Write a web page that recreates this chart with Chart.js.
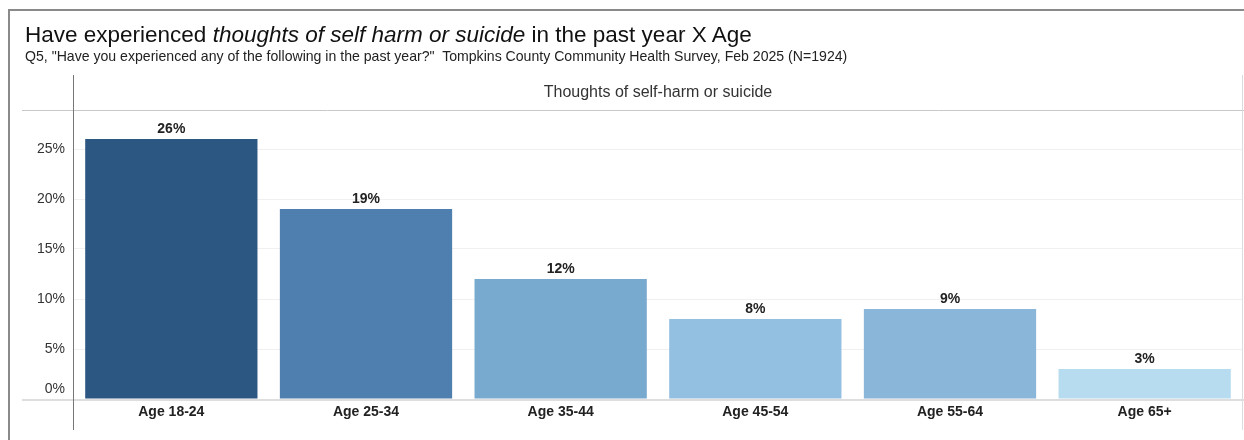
<!DOCTYPE html>
<html>
<head>
<meta charset="utf-8">
<script src="https://cdn.jsdelivr.net/npm/chart.js@4"></script>
<style>
  html, body { margin: 0; padding: 0; background: #fff; }
  body { width: 1244px; height: 440px; position: relative; overflow: hidden; font-family: Arial, "Liberation Sans", sans-serif; }
  #frame { position: absolute; left: 8px; top: 9px; width: 1250px; height: 450px; border-left: 2px solid #8a8a8a; border-top: 2px solid #8a8a8a; }
  #title { position: absolute; left: 25px; top: 24px; font-size: 22.5px; line-height: 1; color: #111; white-space: nowrap; }
  #subtitle { position: absolute; left: 25px; top: 49px; font-size: 14.1px; line-height: 1; color: #222; white-space: nowrap; }
  #header { position: absolute; left: 74px; width: 1168px; top: 84px; text-align: center; font-size: 16px; line-height: 1; color: #333; }
  #wrap { position: absolute; left: 0; top: 0; width: 1244px; height: 440px; }
</style>
</head>
<body>
<div id="frame"></div>
<div id="wrap"><canvas id="chart"></canvas></div>
<div id="title">Have experienced <i>thoughts of self harm or suicide</i> in the past year X Age</div>
<div id="subtitle">Q5, "Have you experienced any of the following in the past year?"&nbsp; Tompkins County Community Health Survey, Feb 2025 (N=1924)</div>
<div id="header">Thoughts of self-harm or suicide</div>
<script>
  const ageGroups = ["Age 18-24", "Age 25-34", "Age 35-44", "Age 45-54", "Age 55-64", "Age 65+"];
  const pctValues = [26, 19, 12, 8, 9, 3];
  const barColors = ["#2c5783", "#4e7fae", "#78a9cf", "#93bfe1", "#8ab6da", "#b7dcef"];
  const yTicks = [0, 5, 10, 15, 20, 25];

  const FONT = "Arial, 'Liberation Sans', sans-serif";

  // panel lines: header rule, baseline and the two vertical dividers
  const panelLines = {
    id: "panelLines",
    beforeDraw(chart) {
      const { ctx, chartArea } = chart;
      const base = Math.round(chart.scales.y.getPixelForValue(0));
      ctx.save();
      ctx.lineWidth = 1;
      ctx.strokeStyle = "#c8c8c8";
      ctx.beginPath();
      ctx.moveTo(22, chartArea.top + 0.5);
      ctx.lineTo(1244, chartArea.top + 0.5);
      ctx.stroke();
      ctx.lineWidth = 2;
      ctx.strokeStyle = "#dedede";
      ctx.beginPath();
      ctx.moveTo(22, base + 1);
      ctx.lineTo(1244, base + 1);
      ctx.stroke();
      ctx.lineWidth = 1;
      ctx.strokeStyle = "#777";
      ctx.beginPath();
      ctx.moveTo(73.5, 75);
      ctx.lineTo(73.5, 430);
      ctx.stroke();
      ctx.strokeStyle = "#dcdcdc";
      ctx.beginPath();
      ctx.moveTo(1242.5, 75);
      ctx.lineTo(1242.5, 430);
      ctx.stroke();
      ctx.restore();
    }
  };

  // y tick labels; the 0% label is lifted so it sits above the baseline
  const yLabels = {
    id: "yLabels",
    afterDraw(chart) {
      const { ctx } = chart;
      const y = chart.scales.y;
      ctx.save();
      ctx.font = "14px " + FONT;
      ctx.fillStyle = "#333";
      ctx.textAlign = "right";
      ctx.textBaseline = "middle";
      yTicks.forEach(v => {
        const py = y.getPixelForValue(v) - (v === 0 ? 10 : 0);
        ctx.fillText(v + "%", 65, py);
      });
      ctx.restore();
    }
  };

  const valueLabels = {
    id: "valueLabels",
    afterDatasetsDraw(chart) {
      const { ctx } = chart;
      const meta = chart.getDatasetMeta(0);
      ctx.save();
      ctx.font = "bold 14px " + FONT;
      ctx.fillStyle = "#222";
      ctx.textAlign = "center";
      ctx.textBaseline = "alphabetic";
      meta.data.forEach((bar, i) => {
        ctx.fillText(pctValues[i] + "%", bar.x, bar.y - 6);
      });
      ctx.restore();
    }
  };

  new Chart(document.getElementById("chart"), {
    type: "bar",
    data: {
      labels: ageGroups,
      datasets: [{
        data: pctValues,
        backgroundColor: barColors,
        borderWidth: 0,
        barPercentage: 0.885,
        categoryPercentage: 1
      }]
    },
    options: {
      responsive: true,
      maintainAspectRatio: false,
      animation: false,
      layout: { padding: { top: 110, right: 2, left: 0, bottom: 0 } },
      plugins: { legend: { display: false }, tooltip: { enabled: false } },
      scales: {
        x: {
          grid: { display: false, drawTicks: false },
          border: { display: false },
          ticks: {
            color: "#222",
            padding: 5,
            font: { family: FONT, size: 14, weight: "bold" }
          },
          afterFit(scale) { scale.height = 41; }
        },
        y: {
          min: 0,
          max: 28.9,
          border: { display: false },
          grid: {
            drawTicks: false,
            color: ctx => (ctx.tick && ctx.tick.value > 0 && ctx.tick.value % 5 === 0) ? "#f0f0f0" : "rgba(0,0,0,0)"
          },
          afterBuildTicks(scale) {
            scale.ticks = yTicks.map(v => ({ value: v }));
          },
          ticks: { display: false },
          afterFit(scale) { scale.width = 74; }
        }
      }
    },
    plugins: [panelLines, yLabels, valueLabels]
  });
</script>
</body>
</html>
